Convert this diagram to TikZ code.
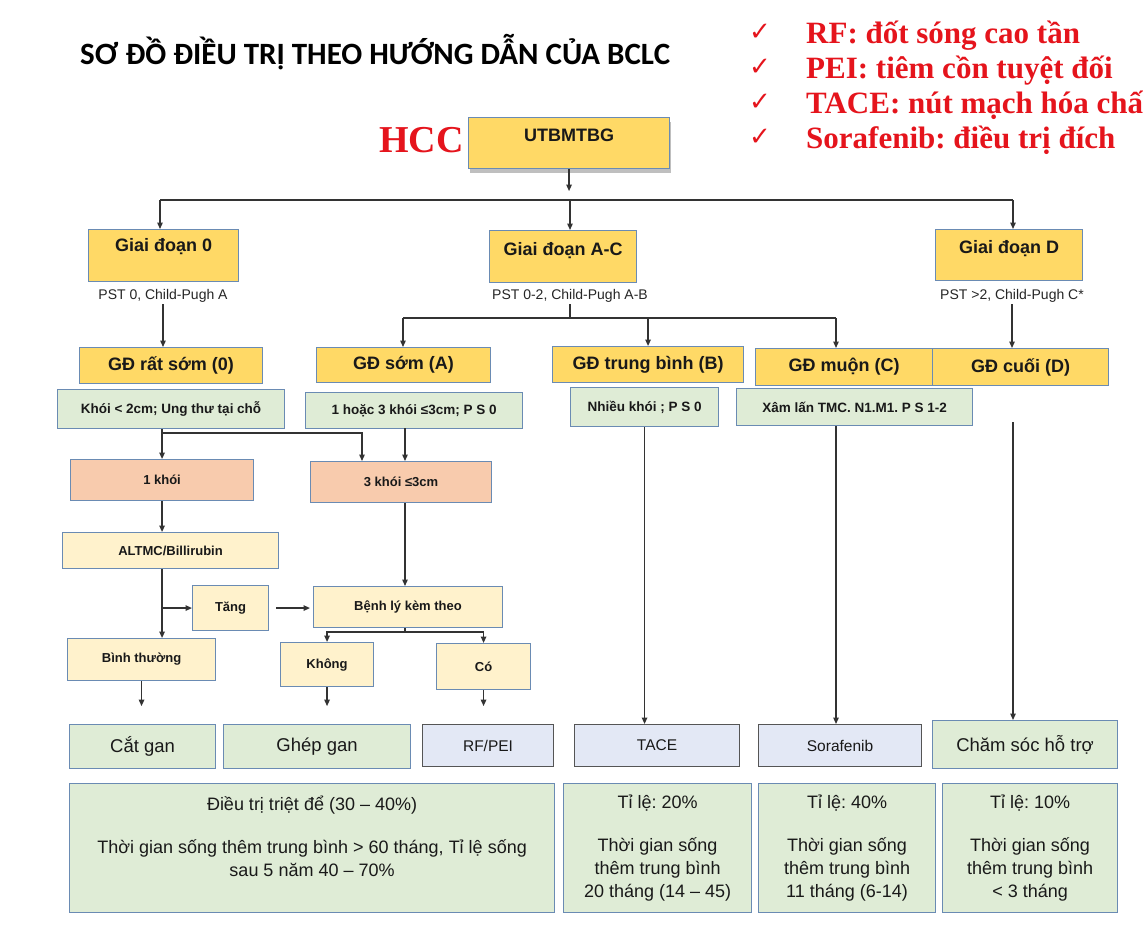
\documentclass[tikz,border=0pt]{standalone}
\usepackage{fontspec}
\setmainfont{Liberation Sans}
\newfontfamily\ttlfont{Carlito}
\newfontfamily\redfont{Liberation Serif}
\newfontfamily\symfont{DejaVu Sans}
\usetikzlibrary{arrows.meta,shadows}
\definecolor{yel}{HTML}{FFD966}
\definecolor{grn}{HTML}{DFECD6}
\definecolor{sal}{HTML}{F8CBAD}
\definecolor{crm}{HTML}{FFF2CC}
\definecolor{lav}{HTML}{E3E8F5}
\definecolor{bord}{HTML}{6A8BB3}
\definecolor{dgray}{HTML}{555555}
\definecolor{linec}{HTML}{333333}
\definecolor{redc}{HTML}{E5141C}
\frenchspacing
\begin{document}
\begin{tikzpicture}[x=1pt,y=-1pt,
  box/.style={draw=bord, line width=1.1pt, anchor=north west, align=center, inner sep=2pt, text=black!90},
  ybox/.style={box, fill=yel, font=\bfseries\fontsize{18}{21}\selectfont},
  ytxt/.style={font=\bfseries\fontsize{18}{21}\selectfont, inner sep=0pt, text=black!90},
  gbox/.style={box, fill=grn, font=\bfseries\fontsize{13.5}{16}\selectfont},
  sbox/.style={box, fill=sal, font=\bfseries\fontsize{13}{15}\selectfont},
  cbox/.style={box, fill=crm, font=\bfseries\fontsize{13}{15}\selectfont},
  tbox/.style={box, fill=grn, font=\fontsize{18.5}{21}\selectfont},
  lbox/.style={box, fill=lav, draw=dgray, font=\fontsize{15.5}{18}\selectfont},
  rbox/.style={box, fill=grn, font=\fontsize{18}{23}\selectfont},
  pst/.style={anchor=base, inner sep=2pt, font=\fontsize{14}{16}\selectfont, text=black!85},
  ln/.style={draw=linec, line width=1.3pt},
  arr/.style={ln, -{Triangle[length=6.5pt,width=5.5pt]}},
  redl/.style={anchor=base west, inner sep=0pt, text=redc, font=\redfont\bfseries\fontsize{31}{33}\selectfont},
  chk/.style={anchor=base, inner sep=0pt, text=redc, font=\symfont\fontsize{26}{28}\selectfont}
]
\clip (0,0) rectangle (1143,929);
\fill[white] (0,0) rectangle (1143,929);

% title and legend
\node[anchor=base west, inner sep=0pt, font=\ttlfont\bfseries\fontsize{31}{34}\selectfont] (title) at (80,64) {SƠ ĐỒ ĐIỀU TRỊ THEO HƯỚNG DẪN CỦA BCLC};
\node[chk] (c1) at (760,40) {✓};
\node[chk] (c2) at (760,75) {✓};
\node[chk] (c3) at (760,110) {✓};
\node[chk] (c4) at (760,145) {✓};
\node[redl] (rl1) at (806,43) {RF: đốt sóng cao tần};
\node[redl] (rl2) at (806,78) {PEI: tiêm cồn tuyệt đối};
\node[redl] (rl3) at (806,113) {TACE: nút mạch hóa chất};
\node[redl] (rl4) at (806,148) {Sorafenib: điều trị đích};
\node[anchor=base west, inner sep=0pt, text=redc, font=\redfont\bfseries\fontsize{38}{40}\selectfont] (hcc) at (379,152) {HCC};

% top box
\node[ybox, minimum width=201pt, minimum height=51pt,
  drop shadow={shadow xshift=1pt, shadow yshift=-4pt, opacity=.25, fill=black},
  label={[ytxt, anchor=base, yshift=-24pt]north:UTBMTBG}] (u) at (468,117) {};

% stage boxes
\node[ybox, minimum width=150pt, minimum height=52pt,
  label={[ytxt, anchor=base, yshift=-22pt]north:Giai đoạn 0}] (g0) at (88,229) {};
\node[ybox, minimum width=147pt, minimum height=52pt,
  label={[ytxt, anchor=base, yshift=-25pt]north:Giai đoạn A-C}] (gac) at (489,230) {};
\node[ybox, minimum width=147pt, minimum height=51pt,
  label={[ytxt, anchor=base, yshift=-24pt]north:Giai đoạn D}] (gd) at (935,229) {};

\node[pst] (p0) at (163,299) {PST 0, Child-Pugh A};
\node[pst] (pac) at (570,299) {PST 0-2, Child-Pugh A-B};
\node[pst] (pd) at (1012,299) {PST >2, Child-Pugh C*};

% GD row
\node[ybox, minimum width=183pt, minimum height=36pt] (r0) at (79,347) {GĐ rất sớm (0)};
\node[ybox, minimum width=174pt, minimum height=35pt] (a) at (316,347) {GĐ sớm (A)};
\node[ybox, minimum width=191pt, minimum height=36pt] (b) at (552,346) {GĐ trung bình (B)};
\node[ybox, minimum width=177pt, minimum height=37pt] (c) at (755,348) {GĐ muộn (C)};
\node[ybox, minimum width=176pt, minimum height=37pt] (dd) at (932,348) {GĐ cuối (D)};

% green criteria
\node[gbox, minimum width=227pt, minimum height=39pt] (k0) at (57,389) {Khói < 2cm; Ung thư tại chỗ};
\node[gbox, minimum width=217pt, minimum height=36pt] (k1) at (305,392) {1 hoặc 3 khói ≤3cm; P S 0};
\node[gbox, minimum width=148pt, minimum height=39pt] (kb) at (570,387) {Nhiều khói ; P S 0};
\node[gbox, minimum width=236pt, minimum height=37pt] (kc) at (736,388) {Xâm lấn TMC. N1.M1. P S 1-2};

% left branch
\node[sbox, minimum width=183pt, minimum height=41pt] (o1) at (70,459) {1 khói};
\node[sbox, minimum width=181pt, minimum height=41pt] (o3) at (310,461) {3 khói ≤3cm};
\node[cbox, minimum width=216pt, minimum height=36pt] (alt) at (62,532) {ALTMC/Billirubin};
\node[cbox, minimum width=76pt, minimum height=45pt] (tang) at (192,585) {Tăng};
\node[cbox, minimum width=189pt, minimum height=41pt] (bl) at (313,586) {Bệnh lý kèm theo};
\node[cbox, minimum width=148pt, minimum height=42pt] (bt) at (67,638) {Bình thường};
\node[cbox, minimum width=93pt, minimum height=44pt] (kh) at (280,642) {Không};
\node[cbox, minimum width=94pt, minimum height=46pt] (co) at (436,643) {Có};

% treatments
\node[tbox, minimum width=146pt, minimum height=44pt] (cg) at (69,724) {Cắt gan};
\node[tbox, minimum width=187pt, minimum height=44pt] (gg) at (223,724) {Ghép gan};
\node[lbox, minimum width=131pt, minimum height=42pt] (rf) at (422,724) {RF/PEI};
\node[lbox, minimum width=165pt, minimum height=42pt] (tace) at (574,724) {TACE};
\node[lbox, minimum width=163pt, minimum height=42pt] (sor) at (758,724) {Sorafenib};
\node[tbox, minimum width=185pt, minimum height=48pt] (cs) at (932,720) {Chăm sóc hỗ trợ};

% results
\node[rbox, minimum width=485pt, minimum height=129pt] (e1) at (69,783) {Điều trị triệt để (30 – 40\%)\\[20pt]Thời gian sống thêm trung bình > 60 tháng, Tỉ lệ sống\\sau 5 năm 40 – 70\%\\\mbox{}};
\node[rbox, minimum width=188pt, minimum height=129pt] (e2) at (563,783) {Tỉ lệ: 20\%\\[20pt]Thời gian sống\\thêm trung bình\\20 tháng (14 – 45)};
\node[rbox, minimum width=177pt, minimum height=129pt] (e3) at (758,783) {Tỉ lệ: 40\%\\[20pt]Thời gian sống\\thêm trung bình\\11 tháng (6-14)};
\node[rbox, minimum width=175pt, minimum height=129pt] (e4) at (942,783) {Tỉ lệ: 10\%\\[20pt]Thời gian sống\\thêm trung bình\\< 3 tháng};

% connectors
\coordinate (busL) at (160,200);
\coordinate (busM) at (570,200);
\coordinate (busR) at (1013,200);
\draw[arr] (u.south) -- ++(0,22);
\draw[ln] (busL) -- (busR);
\draw[arr] (busL) -- (busL |- g0.north);
\draw[arr] (busM) -- (busM |- gac.north);
\draw[arr] (busR) -- (busR |- gd.north);

\draw[arr] (p0.south) -- (p0.south |- r0.north);
\coordinate (acL) at (403,318);
\coordinate (acR) at (836,318);
\draw[ln] (pac.south) -- (pac.south |- acL);
\draw[ln] (acL) -- (acR);
\draw[arr] (acL) -- (acL |- a.north);
\draw[arr] (b.north |- acL) -- (b.north);
\draw[arr] (acR) -- (acR |- c.north);
\draw[arr] (pd.south) -- (pd.south |- dd.north);

\coordinate (br1) at (161.5,433);
\coordinate (br2) at (362,433);
\coordinate (v3) at (405,428);
\draw[arr] (o1.north |- k0.south) -- (o1.north);
\draw[arr] (br1) -- (br2) -- (br2 |- o3.north);
\draw[arr] (v3) -- (v3 |- o3.north);
\draw[arr] (o1.south) -- (o1.south |- alt.north);
\draw[arr] (o1.south |- alt.south) -- (o1.south |- bt.north);
\draw[arr] (o1.south |- tang.west) -- (tang.west);
\draw[arr, shorten <=7pt, shorten >=3pt] (tang.east) -- (bl.west |- tang.east);
\draw[arr] (v3 |- o3.south) -- (v3 |- bl.north);
\coordinate (bs) at (405,632);
\draw[ln] (v3 |- bl.south) -- (bs);
\draw[arr] (bs) -| (kh.north);
\draw[arr] (bs) -| (co.north);
\draw[arr] (bt.south) -- ++(0,25);
\draw[arr] (kh.south) -- ++(0,19);
\draw[arr] (co.south) -- ++(0,16);

\draw[arr] (kb.south) -- (kb.south |- tace.north);
\draw[arr] (kc.south -| acR) -- (acR |- sor.north);
\coordinate (dfree) at (1013,422);
\draw[arr] (dfree) -- (dfree |- cs.north);
\end{tikzpicture}
\end{document}
